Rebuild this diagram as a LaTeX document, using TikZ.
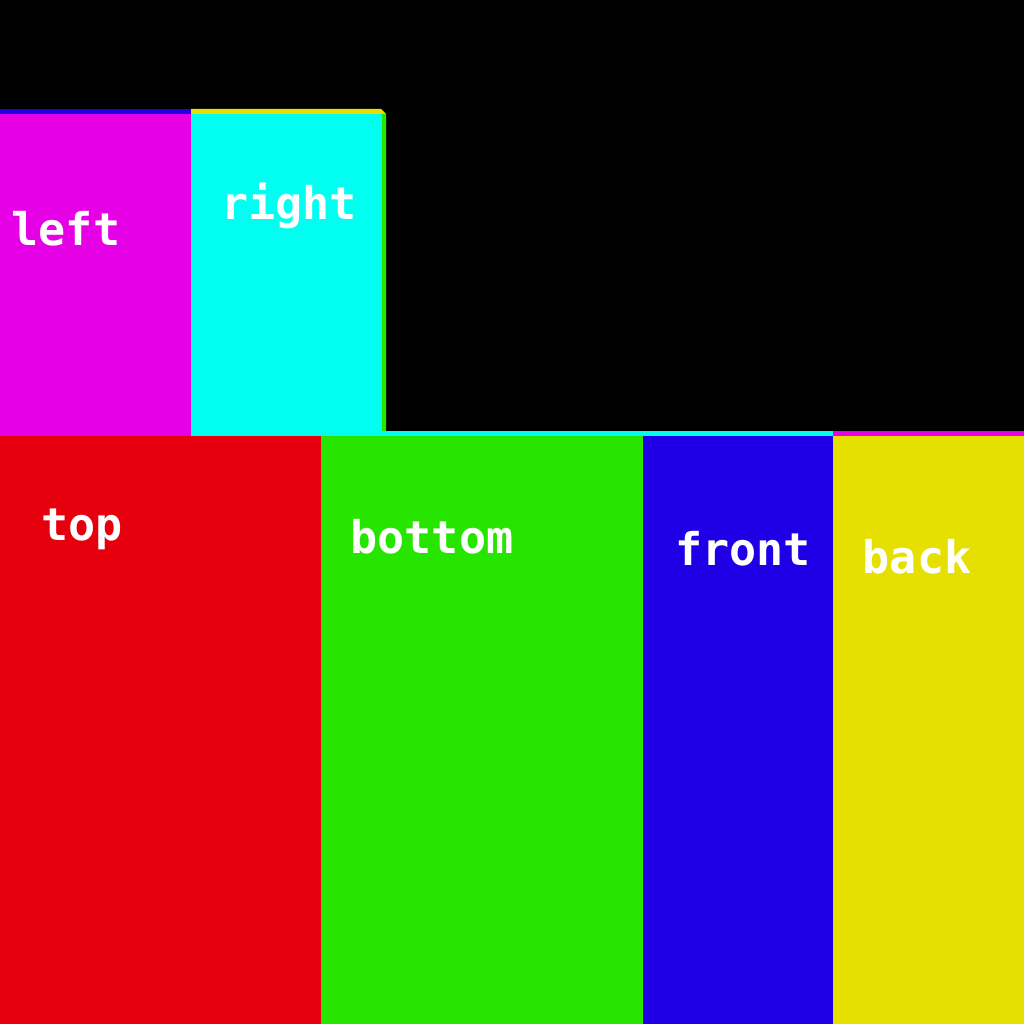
\documentclass[tikz,border=0pt]{standalone}
\usepackage{fontspec}
\newfontfamily\labfont{DejaVu Sans Mono}[BoldFont={DejaVu Sans Mono Bold}]
\definecolor{cmag}{HTML}{E600E6}
\definecolor{ccyan}{HTML}{00FFF0}
\definecolor{cred}{HTML}{E6000D}
\definecolor{cgreen}{HTML}{26E600}
\definecolor{cblue}{HTML}{1F00E6}
\definecolor{cyel}{HTML}{E6E000}
\tikzset{
  face/.style={inner sep=0pt, outer sep=0pt},
  lab/.style={text=white, font=\labfont\bfseries\fontsize{45}{45}\selectfont, inner sep=0pt, anchor=base}
}
\begin{document}
\begin{tikzpicture}[x=1pt,y=-1pt]
\fill[black] (0,0) rectangle (1024,1024);
\useasboundingbox (0,0) rectangle (1024,1024);
% upper faces
\fill[cblue] (0,109) rectangle (191,114);
\fill[cyel] (191,109) -- (381,109) -- (386,114) -- (191,114) -- cycle;
\fill[cgreen] (381,114) -- (386,114) -- (386,431) -- (381,436) -- cycle;
\fill[cmag] (0,114) rectangle (191,436);
\fill[ccyan] (191,114) rectangle (382,436);
% lower strips
\fill[ccyan] (382,431) rectangle (833,436);
\fill[cmag] (833,431) rectangle (1024,436);
% lower faces
\fill[cred] (0,436) rectangle (321,1024);
\fill[cgreen] (321,436) rectangle (643,1024);
\fill[cblue] (643,436) rectangle (833,1024);
\fill[cyel] (833,436) rectangle (1024,1024);
% labels
\node[lab] (left) at (66,245) {left};
\node[lab] (right) at (289,220) {right};
\node[lab] (top) at (82,540) {top};
\node[lab] (bottom) at (432,553) {bottom};
\node[lab] (front) at (743,565) {front};
\node[lab] (back) at (917,573) {back};
\end{tikzpicture}
\end{document}
